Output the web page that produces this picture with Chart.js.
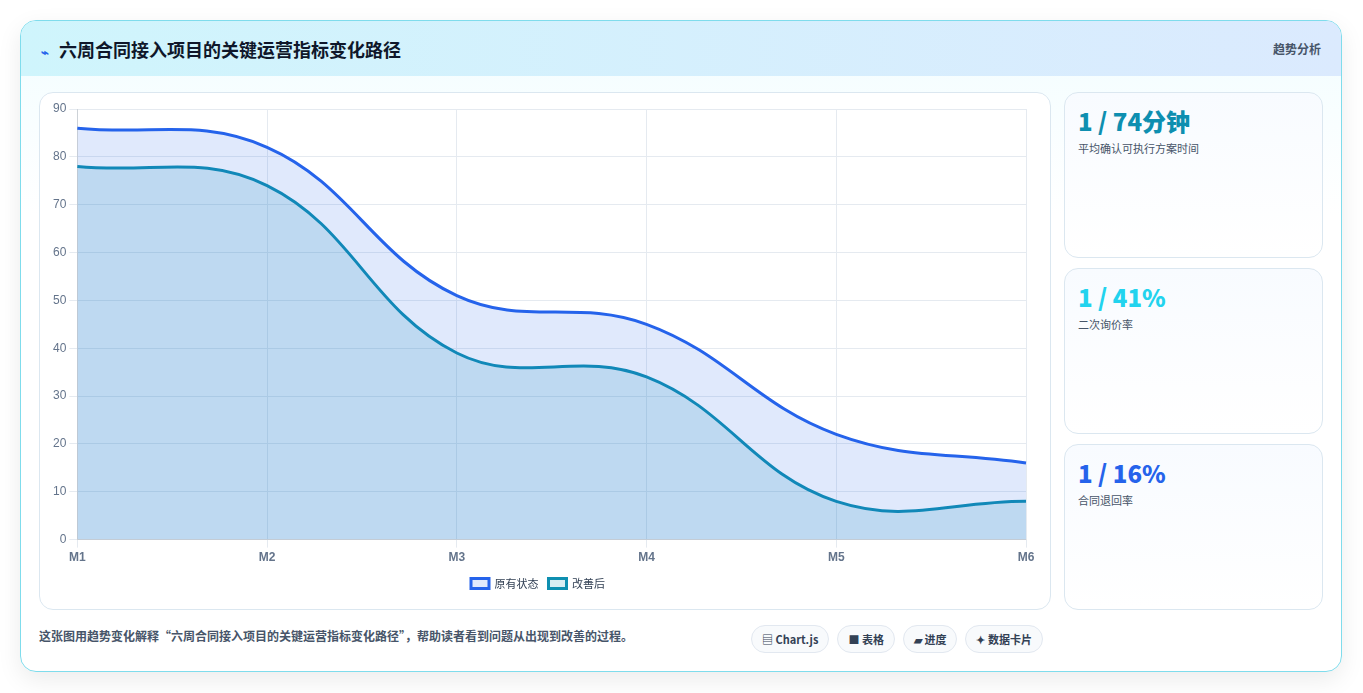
<!DOCTYPE html>
<html><head><meta charset="utf-8">
<script src="https://cdn.jsdelivr.net/npm/chart.js@4/dist/chart.umd.min.js"></script>
<style>
body{margin:0;background:#fff;font-family:"Noto Sans CJK SC","Noto Sans",sans-serif;}
.card{position:absolute;left:20px;top:20px;width:1320px;height:650px;border:1px solid #7fdcec;border-radius:16px;background:linear-gradient(180deg,#f2fdff,#fff 30%);box-shadow:0 8px 24px rgba(0,0,0,0.08);overflow:hidden}
.head{height:55px;background:linear-gradient(90deg,#cff5fc,#dbeafe);display:flex;align-items:center;padding:0 20px;justify-content:space-between}
.head h1{margin:0;font-size:18px;font-weight:700;color:#0f172a}
.head h1 span{color:#2563eb;font-size:13px;margin-right:10px}
.head .tag{font-size:12px;color:#475569;font-weight:600}
.panel{position:absolute;left:18px;top:71px;width:1010px;height:516px;border:1px solid #dbe7f0;border-radius:14px;background:#fff}
.side{position:absolute;left:1043px;width:257px;height:164px;border:1px solid #dbe7f0;border-radius:14px;background:linear-gradient(180deg,#f8fbff,#fff)}
.side b{display:block;margin:10px 0 0 13px;font-size:24px;font-weight:800}
.side i{display:block;font-style:normal;margin:2px 0 0 13px;font-size:11px;color:#475569}
.foot{position:absolute;left:18px;top:606px;font-size:12px;color:#475569;font-weight:600}
.chips{position:absolute;left:730px;top:604px;display:flex;gap:8px}
.chips div{font-size:11px;font-weight:700;color:#334155;border:1px solid #e2e8f0;border-radius:14px;padding:5px 10px;background:#f8fafc}
</style></head><body>
<div class="card">
<div class="head"><h1><span>⌁</span>六周合同接入项目的关键运营指标变化路径</h1><div class="tag">趋势分析</div></div>
<div class="panel"><canvas id="c" width="1010" height="516"></canvas></div>
<div class="side" style="top:71px"><b style="color:#0e8fb0">1 / 74分钟</b><i>平均确认可执行方案时间</i></div>
<div class="side" style="top:247px"><b style="color:#22d3ee">1 / 41%</b><i>二次询价率</i></div>
<div class="side" style="top:423px"><b style="color:#2563eb">1 / 16%</b><i>合同退回率</i></div>
<div class="foot">这张图用趋势变化解释“六周合同接入项目的关键运营指标变化路径”，帮助读者看到问题从出现到改善的过程。</div>
<div class="chips"><div>▤ Chart.js</div><div>■ 表格</div><div>▰ 进度</div><div>✦ 数据卡片</div></div>
</div>
<script>
const labels = ["M1","M2","M3","M4","M5","M6"];
const before = [86,82,51,45,22,16];
const after = [78,74,39,34,8,8];
new Chart(document.getElementById("c"), {
  type: "line",
  data: { labels, datasets: [
    { label: "原有状态", data: before, borderColor: "#2563eb", backgroundColor: "rgba(37,99,235,0.14)", fill: true, tension: 0.4, borderWidth: 3, pointRadius: 0 },
    { label: "改善后", data: after, borderColor: "#0e8fb0", backgroundColor: "rgba(14,143,176,0.16)", fill: true, tension: 0.4, borderWidth: 3, pointRadius: 0 }
  ]},
  options: {
    responsive: false, animation: false,
    layout: { padding: { left: 10, right: 24, top: 16, bottom: 10 } },
    plugins: { legend: { position: "bottom", labels: { boxWidth: 18, boxHeight: 10, font: { size: 11, family: "Noto Sans CJK SC" }, color: "#334155" } } },
    scales: {
      x: { grid: { color: "#e5eaf0" }, ticks: { color: "#64748b", font: { size: 12, weight: "bold" } } },
      y: { min: 0, max: 90, ticks: { stepSize: 10, color: "#64748b", font: { size: 12 } }, grid: { color: "#e5eaf0" } }
    }
  }
});
</script>
</body></html>
